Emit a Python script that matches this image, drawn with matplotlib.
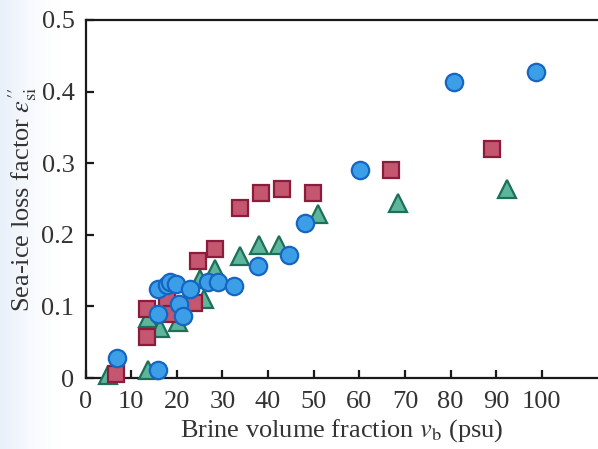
import numpy as np
import matplotlib
matplotlib.use("Agg")
import matplotlib.pyplot as plt

plt.rcParams["font.family"] = ["Liberation Serif", "DejaVu Serif"]
plt.rcParams["mathtext.fontset"] = "stix"

# Brine volume fraction (psu) and loss factor for the three sample sets
circle_x = [6.8, 15.9, 15.9, 17.8, 18.5, 19.8, 15.9, 20.5, 21.4, 22.9,
            26.9, 29.1, 32.5, 37.8, 44.6, 48.1, 60.1, 80.8, 98.8]
circle_y = [0.028, 0.011, 0.125, 0.130, 0.134, 0.131, 0.090, 0.103, 0.087, 0.125,
            0.134, 0.134, 0.128, 0.157, 0.172, 0.217, 0.291, 0.413, 0.428]

square_x = [6.7, 13.5, 13.5, 17.8, 18.9, 23.8, 24.6, 28.4, 33.8, 38.4,
            43.0, 49.9, 66.9, 89.1]
square_y = [0.006, 0.057, 0.096, 0.110, 0.090, 0.105, 0.163, 0.180, 0.238, 0.258,
            0.264, 0.258, 0.291, 0.320]

tri_x = [5.0, 13.8, 13.8, 16.3, 20.3, 25.1, 26.0, 28.4, 33.8, 38.0,
         42.5, 51.0, 68.4, 92.3]
tri_y = [0.004, 0.011, 0.084, 0.070, 0.078, 0.138, 0.111, 0.152, 0.171, 0.186,
         0.186, 0.229, 0.245, 0.264]

x_ticks = [0, 10, 20, 30, 40, 50, 60, 70, 80, 90, 100]
y_ticks = [0, 0.1, 0.2, 0.3, 0.4, 0.5]
y_tick_labels = ["0", "0.1", "0.2", "0.3", "0.4", "0.5"]

fig = plt.figure(figsize=(5.98, 4.49), dpi=100)

# soft bluish cast along the left margin of the page
bg = fig.add_axes([0, 0, 1, 1], zorder=-10)
grad = np.linspace(0, 1, 300)
shade = np.clip(1 - grad / 0.10, 0, 1) ** 1.5
img = np.ones((10, 300, 3))
tint = np.array([0.80, 0.87, 0.96])
for c in range(3):
    img[:, :, c] = 1 - shade * (1 - tint[c]) * 0.45
bg.imshow(img, aspect="auto", extent=[0, 1, 0, 1])
bg.axis("off")

ax = fig.add_axes([0.143, 0.158, 0.857, 0.7975])
ax.patch.set_alpha(0)

ax.plot(tri_x, tri_y, linestyle="none", marker="^", markersize=13,
        markerfacecolor="#5db69c", markeredgecolor="#1d6f5a", markeredgewidth=1.6,
        zorder=3, clip_on=False)
ax.plot(square_x, square_y, linestyle="none", marker="s", markersize=11.5,
        markerfacecolor="#c4566f", markeredgecolor="#8c1c3c", markeredgewidth=1.6,
        zorder=4, clip_on=False)
ax.plot(circle_x, circle_y, linestyle="none", marker="o", markersize=12.5,
        markerfacecolor="#3d9ee8", markeredgecolor="#1466c2", markeredgewidth=1.6,
        zorder=5, clip_on=False)

ax.set_xlim(0, 112.3)
ax.set_ylim(0, 0.5)
ax.set_xticks(x_ticks)
ax.set_yticks(y_ticks)
ax.set_yticklabels(y_tick_labels)

for side in ["left", "bottom", "top"]:
    ax.spines[side].set_linewidth(1.6)
    ax.spines[side].set_color("#1a1a1a")
ax.spines["right"].set_visible(False)

ax.tick_params(axis="both", direction="in", length=6, width=1.6,
               labelsize=19, colors="#1a1a1a", labelcolor="#333333")
ax.tick_params(axis="x", pad=9)
ax.tick_params(axis="y", pad=8)

ax.set_xlabel(r"Brine volume fraction $v_{\mathrm{b}}$ (psu)", fontsize=19,
              color="#333333", labelpad=3)
ax.set_ylabel(r"Sea-ice loss factor $\varepsilon^{\prime\prime}_{\mathrm{si}}$",
              fontsize=19, color="#333333", labelpad=2)

fig.savefig("out.png", dpi=100)
